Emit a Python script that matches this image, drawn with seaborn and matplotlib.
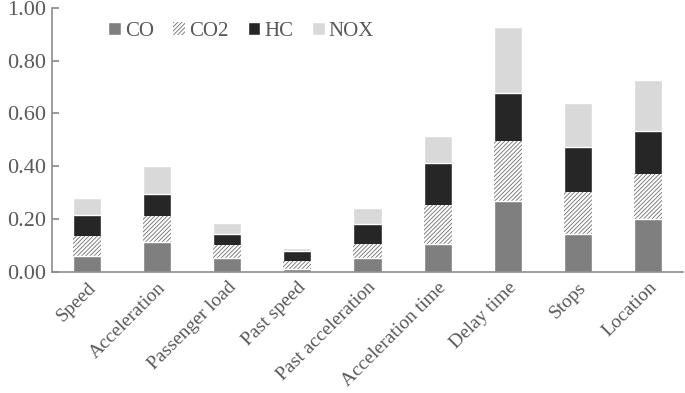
import numpy as np
import pandas as pd
import matplotlib
matplotlib.use('Agg')
import matplotlib.pyplot as plt
import seaborn as sns
from matplotlib.patches import Patch
from matplotlib.ticker import FormatStrFormatter

sns.set_theme(style='white')
plt.rcParams['font.family'] = ['Liberation Serif', 'DejaVu Serif']
plt.rcParams['hatch.linewidth'] = 0.6

# values
factors = ['Speed', 'Acceleration', 'Passenger load', 'Past speed', 'Past acceleration',
           'Acceleration time', 'Delay time', 'Stops', 'Location']
co = [0.062, 0.114, 0.052, 0.010, 0.052, 0.107, 0.267, 0.145, 0.200]
co2 = [0.073, 0.097, 0.049, 0.033, 0.055, 0.147, 0.229, 0.157, 0.172]
hc = [0.080, 0.084, 0.044, 0.038, 0.074, 0.159, 0.182, 0.170, 0.162]
nox = [0.066, 0.107, 0.040, 0.009, 0.062, 0.103, 0.251, 0.168, 0.191]

series = ['CO', 'CO2', 'HC', 'NOX']
df = pd.DataFrame({'factor': factors, 'CO': co, 'CO2': co2, 'HC': hc, 'NOX': nox})

# cumulative totals, drawn from the top down so each layer covers the next
cum = df[series].cumsum(axis=1)

text_col = '#595959'
hatch = '////////'
styles = {
    'NOX': dict(color='#d9d9d9'),
    'HC': dict(color='#262626'),
    'CO2': dict(color='white', hatch=hatch, edgecolor='#6f6f6f', linewidth=0),
    'CO': dict(color='#7f7f7f'),
}

fig, ax = plt.subplots(figsize=(6.85, 3.93), dpi=100)
fig.subplots_adjust(left=0.076, right=0.997, top=0.98, bottom=0.308)

for s in ['NOX', 'HC', 'CO2', 'CO']:
    sns.barplot(x=df['factor'], y=cum[s], ax=ax, width=0.4, saturation=1, **styles[s])

ax.set_ylim(0, 1.0)
ax.set_yticks(np.arange(0, 1.01, 0.2))
ax.yaxis.set_major_formatter(FormatStrFormatter('%.2f'))
ax.set_xlabel('')
ax.set_ylabel('')

for side in ['top', 'right']:
    ax.spines[side].set_visible(False)
for side in ['left', 'bottom']:
    ax.spines[side].set_color('#8c8c8c')
    ax.spines[side].set_linewidth(1.2)

ax.tick_params(axis='y', direction='in', length=5, color='#8c8c8c', labelsize=16,
               labelcolor=text_col, left=True, pad=4)
ax.tick_params(axis='x', length=0, labelsize=14, labelcolor=text_col, pad=5)
plt.setp(ax.get_xticklabels(), rotation=45, ha='right', rotation_mode='anchor')

handles = [Patch(facecolor='#7f7f7f', label='CO'),
           Patch(facecolor='white', hatch=hatch, edgecolor='#6f6f6f', linewidth=0, label='CO2'),
           Patch(facecolor='#262626', label='HC'),
           Patch(facecolor='#d9d9d9', label='NOX')]
ax.legend(handles=handles, loc='center', bbox_to_anchor=(0.30, 0.91), ncol=4,
          frameon=False, handlelength=0.6, handleheight=0.6, handletextpad=0.2,
          columnspacing=0.9, fontsize=15, labelcolor=text_col)

fig.savefig('out.png', dpi=100)
